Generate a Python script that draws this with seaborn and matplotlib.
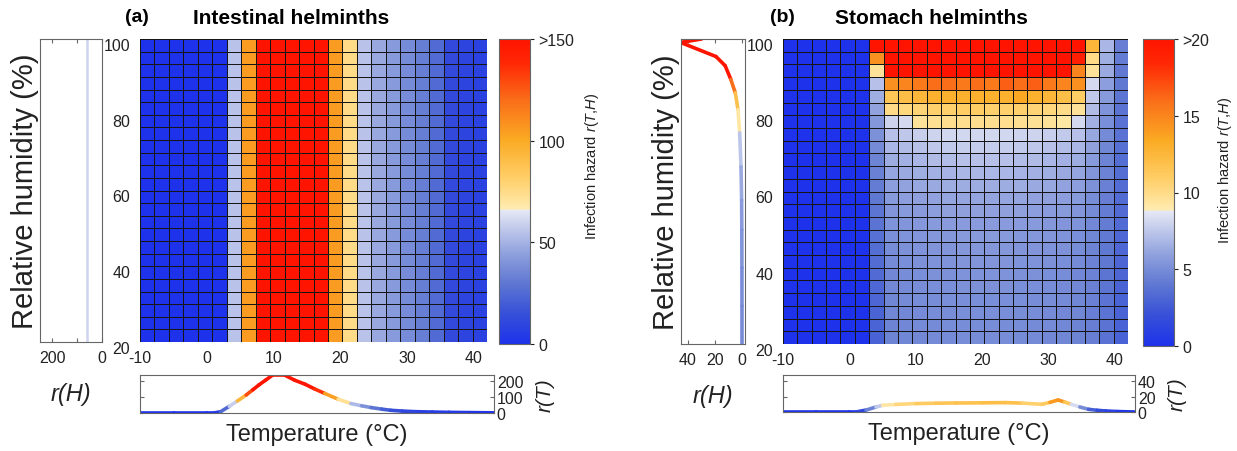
import numpy as np
import pandas as pd
import matplotlib
matplotlib.use("Agg")
import matplotlib.pyplot as plt
import seaborn as sns
from matplotlib.colors import LinearSegmentedColormap, Normalize
from matplotlib.collections import LineCollection
from matplotlib.transforms import ScaledTranslation

# ---------------- data ----------------
temperature_ticks = [-10, 0, 10, 20, 30, 40]
humidity_ticks = [20, 40, 60, 80, 100]
t_min, t_max = -10, 42
h_min, h_max = 20, 100
n_temp, n_hum = 24, 24

# (a) Intestinal helminths: hazard per temperature column (same for every humidity row)
hazard_a_by_temp = [0, 0, 0, 0, 0, 0, 55, 105, 170, 170, 170, 170, 170,
                    105, 75, 55, 47, 42, 37, 32, 25, 12, 9, 8]

# (b) Stomach helminths: hazard matrix, first row = highest humidity
hazard_b_rows = [
    [0, 0, 0, 0, 0, 0, 26, 26, 26, 26, 26, 26, 26, 26, 26, 26, 26, 26, 26, 26, 26, 12.5, 6.8, 4.3],
    [0, 0, 0, 0, 0, 0, 14.5, 26, 26, 26, 26, 26, 26, 26, 26, 26, 26, 26, 26, 26, 19, 10, 6.5, 4.2],
    [0, 0, 0, 0, 0, 0, 9.5, 20, 26, 26, 26, 26, 26, 26, 26, 26, 26, 26, 26, 26, 15, 9.5, 6.3, 4.1],
    [0, 0, 0, 0, 0, 0, 7.2, 14.5, 15, 15.5, 16, 16, 15.5, 16, 15.5, 16.5, 16, 16.5, 15.5, 15, 14.5, 8.2, 5.8, 4.0],
    [0, 0, 0, 0, 0, 0, 6.5, 11.5, 12, 12.5, 13, 13, 13, 13, 13, 13, 13.5, 13, 12.5, 12, 11, 7.5, 5.6, 3.9],
    [0, 0, 0, 0, 0, 0, 6.0, 10, 10.3, 10.5, 10.8, 10.8, 11, 11, 10.8, 10.8, 10.8, 10.5, 10.3, 10, 9.5, 7.0, 5.3, 3.8],
    [0, 0, 0, 0, 0, 0, 5.5, 8.0, 8.2, 9.5, 9.7, 9.8, 9.8, 9.8, 9.8, 9.8, 9.7, 9.6, 9.5, 9.2, 8.2, 6.6, 5.1, 3.7],
    [0, 0, 0, 0, 0, 0, 5.2, 7.2, 7.5, 7.8, 8.0, 8.1, 8.1, 8.1, 8.1, 8.1, 8.0, 8.0, 7.8, 7.6, 7.2, 6.2, 4.9, 3.7],
    [0, 0, 0, 0, 0, 0, 4.9, 6.8, 7.0, 7.3, 7.5, 7.6, 7.7, 7.7, 7.7, 7.7, 7.6, 7.5, 7.3, 7.1, 6.8, 5.9, 4.7, 3.6],
    [0, 0, 0, 0, 0, 0, 4.6, 6.4, 6.6, 6.8, 7.0, 7.1, 7.2, 7.2, 7.2, 7.2, 7.1, 7.0, 6.8, 6.6, 6.4, 5.6, 4.6, 3.5],
    [0, 0, 0, 0, 0, 0, 4.4, 6.1, 6.3, 6.5, 6.6, 6.7, 6.8, 6.8, 6.8, 6.8, 6.7, 6.6, 6.5, 6.3, 6.1, 5.4, 4.5, 3.5],
    [0, 0, 0, 0, 0, 0, 4.2, 5.8, 6.0, 6.2, 6.3, 6.4, 6.4, 6.4, 6.4, 6.4, 6.4, 6.3, 6.2, 6.0, 5.8, 5.2, 4.4, 3.4],
    [0, 0, 0, 0, 0, 0, 4.0, 5.6, 5.8, 5.9, 6.0, 6.1, 6.1, 6.1, 6.1, 6.1, 6.1, 6.0, 5.9, 5.8, 5.6, 5.0, 4.3, 3.4],
    [0, 0, 0, 0, 0, 0, 3.9, 5.4, 5.6, 5.7, 5.8, 5.9, 5.9, 5.9, 5.9, 5.9, 5.9, 5.8, 5.7, 5.6, 5.4, 4.9, 4.2, 3.3],
    [0, 0, 0, 0, 0, 0, 3.8, 5.3, 5.4, 5.5, 5.6, 5.7, 5.7, 5.7, 5.7, 5.7, 5.7, 5.6, 5.5, 5.4, 5.3, 4.8, 4.2, 3.3],
    [0, 0, 0, 0, 0, 0, 3.6, 5.1, 5.3, 5.4, 5.5, 5.5, 5.6, 5.6, 5.6, 5.6, 5.5, 5.5, 5.4, 5.3, 5.1, 4.7, 4.1, 3.2],
    [0, 0, 0, 0, 0, 0, 3.5, 5.0, 5.2, 5.3, 5.4, 5.4, 5.5, 5.5, 5.5, 5.5, 5.4, 5.4, 5.3, 5.2, 5.0, 4.6, 4.0, 3.2],
    [0, 0, 0, 0, 0, 0, 3.4, 4.9, 5.1, 5.2, 5.3, 5.3, 5.4, 5.4, 5.4, 5.4, 5.3, 5.3, 5.2, 5.1, 4.9, 4.5, 4.0, 3.1],
    [0, 0, 0, 0, 0, 0, 3.3, 4.8, 5.0, 5.1, 5.2, 5.2, 5.3, 5.3, 5.3, 5.3, 5.2, 5.2, 5.1, 5.0, 4.8, 4.5, 3.9, 3.1],
    [0, 0, 0, 0, 0, 0, 3.2, 4.8, 4.9, 5.0, 5.1, 5.1, 5.2, 5.2, 5.2, 5.2, 5.1, 5.1, 5.0, 4.9, 4.8, 4.4, 3.9, 3.0],
    [0, 0, 0, 0, 0, 0, 3.1, 4.7, 4.9, 5.0, 5.0, 5.1, 5.1, 5.1, 5.1, 5.1, 5.1, 5.0, 5.0, 4.9, 4.7, 4.4, 3.8, 3.0],
    [0, 0, 0, 0, 0, 0, 3.0, 4.7, 4.8, 4.9, 5.0, 5.0, 5.1, 5.1, 5.1, 5.1, 5.0, 5.0, 4.9, 4.8, 4.7, 4.3, 3.8, 3.0],
    [0, 0, 0, 0, 0, 0, 3.0, 4.6, 4.8, 4.9, 4.9, 5.0, 5.0, 5.0, 5.0, 5.0, 5.0, 4.9, 4.9, 4.8, 4.6, 4.3, 3.8, 2.9],
    [0, 0, 0, 0, 0, 0, 2.9, 4.6, 4.7, 4.8, 4.9, 4.9, 5.0, 5.0, 5.0, 5.0, 4.9, 4.9, 4.8, 4.7, 4.6, 4.3, 3.7, 2.9],
]

# marginal curves
rT_a_temp = [-10, -5, 0, 1, 2, 3.3, 4.5, 5.8, 6.8, 7.7, 8.7, 9.7, 11.6, 13, 14.6, 16, 17.5,
             19.5, 21.4, 23, 24.4, 26, 27.3, 29, 31.2, 33.5, 36, 39, 42.7]
rT_a_val = [0, 0, 0, 0, 8, 42, 75, 112, 145, 175, 205, 235, 235, 205, 179, 150, 122,
            86, 59, 45, 34, 24, 17, 12, 8, 6, 4, 2.5, 1]
rH_a_hum = [20, 100]
rH_a_val = [60, 60]

rT_b_temp = [-10, -5, 0, 1, 2.5, 4, 5, 7, 10, 13, 16, 20, 23.5, 26, 29, 30.2, 31.4, 32.4,
             33.4, 34.7, 36, 37.3, 38.6, 40.3, 43]
rT_b_val = [0, 0, 0, 0, 2.5, 6.5, 8.7, 9.8, 10.9, 11.4, 11.7, 11.9, 12.2, 11.5, 10, 12.5, 15.6, 13,
            10, 6.5, 3.5, 2.2, 1.3, 0.6, 0]
rH_b_hum = [100, 99.1, 95.4, 93, 89.4, 85.9, 81.5, 75.4, 66.5, 57.7, 50, 40, 30, 20]
rH_b_val = [30, 45.5, 19.3, 12.5, 8.3, 5, 3, 1.75, 0.75, 0.3, 0.15, 0.08, 0.04, 0.02]

cbar_a_ticks = [0, 50, 100, 150]
cbar_a_labels = ["0", "50", "100", ">150"]
cbar_b_ticks = [0, 5, 10, 15, 20]
cbar_b_labels = ["0", "5", "10", "15", ">20"]
side_a_ticks = [200, 100, 0]
side_a_labels = ["200", "", "0"]
side_b_ticks = [40, 20, 0]
side_b_labels = ["40", "20", "0"]
bottom_a_ticks = [0, 100, 200]
bottom_b_ticks = [0, 20, 40]

# ---------------- style ----------------
sns.set_style("white")
plt.rcParams["font.family"] = ["Liberation Sans", "DejaVu Sans"]
plt.rcParams["mathtext.fontset"] = "custom"
plt.rcParams["mathtext.rm"] = "Liberation Sans"
plt.rcParams["mathtext.it"] = "Liberation Sans:italic"
TXT = "#222222"
SPINE = "#666666"

def rgb(r, g, b):
    return (r / 255, g / 255, b / 255)

cmap = LinearSegmentedColormap.from_list("hazard", [
    (0.00, rgb(30, 50, 235)),
    (0.10, rgb(55, 80, 215)),
    (0.20, rgb(95, 120, 210)),
    (0.30, rgb(145, 162, 222)),
    (0.439, rgb(230, 232, 245)),
    (0.441, rgb(255, 236, 178)),
    (0.55, rgb(255, 205, 100)),
    (0.67, rgb(250, 170, 35)),
    (0.80, rgb(250, 110, 25)),
    (0.92, rgb(255, 40, 5)),
    (1.00, rgb(255, 20, 0)),
], N=512)

W, H = 1237, 452
fig = plt.figure(figsize=(W / 100, H / 100), dpi=100)

def box(x0, y0, x1, y1):
    return [x0 / W, 1 - y1 / H, (x1 - x0) / W, (y1 - y0) / H]

def colored_line(ax, x, y, cvals, norm, lw):
    pts = np.column_stack([x, y]).reshape(-1, 1, 2)
    segs = np.concatenate([pts[:-1], pts[1:]], axis=1)
    c = np.asarray(cvals, dtype=float)
    lc = LineCollection(segs, cmap=cmap, norm=norm, linewidths=lw,
                        capstyle="round", joinstyle="round")
    lc.set_array((c[:-1] + c[1:]) / 2)
    ax.add_collection(lc)

def style_spines(ax):
    for s in ax.spines.values():
        s.set_color(SPINE)
        s.set_linewidth(0.8)
        s.set_visible(True)

def draw_heat(ax, cax, mat, vmax, cticks, clabels):
    t_edges = np.linspace(t_min, t_max, n_temp + 1)
    h_edges = np.linspace(h_min, h_max, n_hum + 1)
    t_cent = np.round((t_edges[:-1] + t_edges[1:]) / 2, 2)
    h_cent = np.round((h_edges[:-1] + h_edges[1:]) / 2, 2)[::-1]
    df = pd.DataFrame(np.asarray(mat, dtype=float), index=h_cent, columns=t_cent)
    sns.heatmap(df, ax=ax, cmap=cmap, vmin=0, vmax=vmax, cbar_ax=cax,
                linewidths=0.6, linecolor="#151515",
                xticklabels=False, yticklabels=False,
                cbar_kws={"ticks": cticks})
    xt = [(t - t_min) / (t_max - t_min) * n_temp for t in temperature_ticks]
    ax.set_xticks(xt)
    ax.set_xticklabels([str(t) for t in temperature_ticks], rotation=0)
    yt = [(h_max - h) / (h_max - h_min) * n_hum for h in humidity_ticks]
    ax.set_yticks(yt)
    ax.set_yticklabels([str(h) for h in humidity_ticks], rotation=0)
    ax.tick_params(axis="x", length=0, labelsize=11.5, pad=6, colors=TXT)
    ax.tick_params(axis="y", length=0, labelsize=11.5, pad=7, colors=TXT)
    off = ScaledTranslation(0, -5 / 100, fig.dpi_scale_trans)
    for lab in ax.get_yticklabels():
        lab.set_transform(lab.get_transform() + off)
    cb = ax.collections[0].colorbar
    cb.set_ticks(cticks)
    cb.set_ticklabels(clabels)
    cb.outline.set_edgecolor(SPINE)
    cb.outline.set_linewidth(0.8)
    cax.tick_params(labelsize=11.5, length=3, width=0.8, colors=TXT, pad=3)

def draw_side(ax, hum, val, cvals, norm, xlim, ticks, labels, lw):
    colored_line(ax, val, hum, cvals, norm, lw)
    ax.set_xlim(xlim)
    ax.set_ylim(h_min, h_max)
    ax.set_xticks(ticks)
    ax.set_xticklabels(labels)
    ax.set_yticks([])
    ax.tick_params(axis="x", direction="in", top=True, bottom=True, length=3,
                   width=0.8, color=SPINE, labelsize=11.5, pad=6, labelcolor=TXT)
    style_spines(ax)
    ax.set_ylabel("Relative humidity (%)", fontsize=21, labelpad=0.5, color=TXT)
    ax.set_xlabel("r(H)", fontsize=17, style="italic", labelpad=12, color=TXT)

def draw_bottom(ax, temp, val, norm, xlim, ylim, ticks):
    colored_line(ax, temp, val, val, norm, 2.6)
    ax.set_xlim(xlim)
    ax.set_ylim(ylim)
    ax.set_xticks([])
    ax.set_yticks(ticks)
    ax.tick_params(axis="y", direction="in", left=True, right=True, labelleft=False,
                   labelright=True, length=3, width=0.8, color=SPINE,
                   labelsize=11.5, pad=2, labelcolor=TXT)
    style_spines(ax)
    ax.set_xlabel("Temperature (°C)", fontsize=17, labelpad=7, color=TXT)
    ax.yaxis.set_label_position("right")
    ax.set_ylabel("r(T)", fontsize=15, style="italic", labelpad=9, color=TXT)

norm_a = Normalize(0, 150)
norm_b = Normalize(0, 20)

# ---------------- panel (a) ----------------
side_a = fig.add_axes(box(40, 40, 102, 343))
heat_a = fig.add_axes(box(140, 40, 487, 343))
cbar_a = fig.add_axes(box(499, 40, 530, 345))
bot_a = fig.add_axes(box(140, 376, 494, 414))

mat_a = np.tile(np.asarray(hazard_a_by_temp, dtype=float), (n_hum, 1))
draw_heat(heat_a, cbar_a, mat_a, 150, cbar_a_ticks, cbar_a_labels)
draw_side(side_a, rH_a_hum, rH_a_val, rH_a_val, norm_a, (248, 0),
          side_a_ticks, side_a_labels, 1.8)
draw_bottom(bot_a, rT_a_temp, rT_a_val, norm_a, (-10, 42.7), (0, 237), bottom_a_ticks)

# ---------------- panel (b) ----------------
side_b = fig.add_axes(box(681, 40, 745, 345))
heat_b = fig.add_axes(box(783, 40, 1128, 345))
cbar_b = fig.add_axes(box(1143, 40, 1174, 347))
bot_b = fig.add_axes(box(783, 376, 1135, 413))

draw_heat(heat_b, cbar_b, hazard_b_rows, 20, cbar_b_ticks, cbar_b_labels)
# colour of r(H) follows the mean hazard of the warm-temperature cells in each row
hb = np.asarray(hazard_b_rows, dtype=float)[::-1]
h_edges = np.linspace(h_min, h_max, n_hum + 1)
row_cent = (h_edges[:-1] + h_edges[1:]) / 2
row_mean = hb[:, 7:21].mean(axis=1)
rH_b_col = np.interp(rH_b_hum, row_cent, row_mean)
draw_side(side_b, rH_b_hum, rH_b_val, rH_b_col, norm_b, (45.2, -2.2),
          side_b_ticks, side_b_labels, 2.6)
draw_bottom(bot_b, rT_b_temp, rT_b_val, norm_b, (-10, 43), (0, 48), bottom_b_ticks)

# ---------------- titles & colorbar labels ----------------
fig.text(137 / W, 1 - 18 / H, "(a)", fontsize=14, fontweight="bold", ha="center", va="center", color="black")
fig.text(291 / W, 1 - 18 / H, "Intestinal helminths", fontsize=15, fontweight="bold", ha="center", va="center", color="black")
fig.text(782 / W, 1 - 18 / H, "(b)", fontsize=14, fontweight="bold", ha="center", va="center", color="black")
fig.text(931 / W, 1 - 18 / H, "Stomach helminths", fontsize=15, fontweight="bold", ha="center", va="center", color="black")
fig.text(592 / W, 1 - 166 / H, "Infection hazard $r(T{,}H)$", fontsize=10.5, rotation=90,
         ha="center", va="center", color=TXT)
fig.text(1225 / W, 1 - 170 / H, "Infection hazard $r(T{,}H)$", fontsize=10.5, rotation=90,
         ha="center", va="center", color=TXT)

fig.savefig("out.png", dpi=100)
